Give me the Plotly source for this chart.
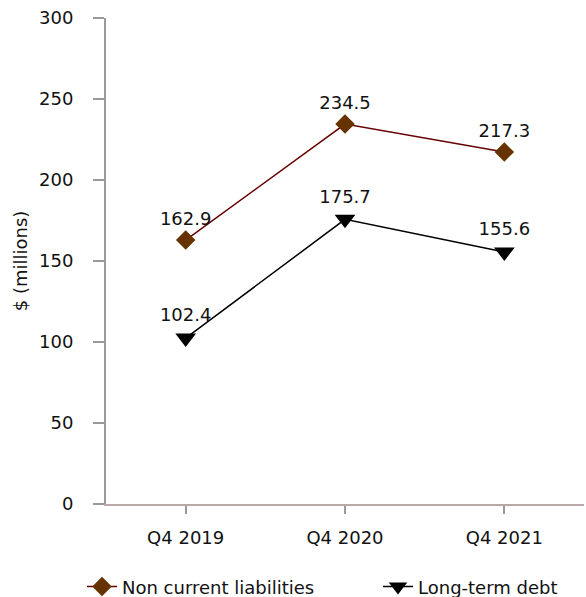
import plotly.graph_objects as go

quarters = ["Q4 2019", "Q4 2020", "Q4 2021"]
non_current_liabilities = [162.9, 234.5, 217.3]
long_term_debt = [102.4, 175.7, 155.6]
y_ticks = [0, 50, 100, 150, 200, 250, 300]

font = dict(family="DejaVu Sans", size=18, color="#111111")

fig = go.Figure()
fig.add_trace(go.Scatter(
    x=quarters, y=non_current_liabilities, name="Non current liabilities",
    mode="lines+markers+text",
    line=dict(color="#660000", width=1.5),
    marker=dict(symbol="diamond", size=15, color="#663300"),
    text=[f"{v:.1f}" for v in non_current_liabilities],
    textposition="top center", textfont=font,
    legend="legend",
))
fig.add_trace(go.Scatter(
    x=quarters, y=long_term_debt, name="Long-term debt",
    mode="lines+markers+text",
    line=dict(color="#000000", width=1.5),
    marker=dict(symbol="triangle-down", size=18, color="#000000"),
    text=[f"{v:.1f}" for v in long_term_debt],
    textposition="top center", textfont=font,
    legend="legend2",
))

legend_common = dict(orientation="h", xanchor="left", xref="container",
                     y=0.017, yanchor="middle", yref="container",
                     font=font, bgcolor="rgba(0,0,0,0)")

fig.update_layout(
    width=586, height=597,
    margin=dict(l=106, r=2, t=18, b=93, autoexpand=False),
    paper_bgcolor="white", plot_bgcolor="white",
    font=font,
    showlegend=True,
    legend=dict(x=82 / 586, **legend_common),
    legend2=dict(x=378 / 586, **legend_common),
)
fig.update_xaxes(
    type="category", range=[-0.5, 2.5],
    showline=True, linecolor="#b8a8a8", linewidth=2,
    ticks="outside", ticklen=8, tickcolor="#999999", tickwidth=2,
    ticklabelstandoff=8,
    showgrid=False, zeroline=False, fixedrange=True,
)
fig.update_yaxes(
    range=[0, 300], tickvals=y_ticks,
    showline=True, linecolor="#999999", linewidth=2,
    ticks="outside", ticklen=11, tickcolor="#999999", tickwidth=2,
    ticklabelstandoff=16,
    showgrid=False, zeroline=False,
    title=dict(text="$ (millions)", font=font, standoff=7),
)

fig.write_html("out.html")
